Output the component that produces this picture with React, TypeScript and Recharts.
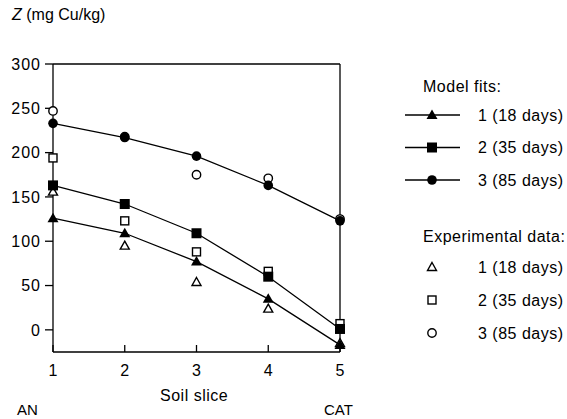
import React from 'react';
import {
  ComposedChart,
  Line,
  XAxis,
  YAxis,
  ReferenceLine
} from 'recharts';

// soil slices (1 = anode side, 5 = cathode side)
const slices = [1, 2, 3, 4, 5];

// model fits, mg Cu/kg
const model18 = [126, 109, 77, 35, -17];
const model35 = [163, 142, 109, 60, 1];
const model85 = [233, 217, 196, 163, 123];

// experimental data, mg Cu/kg
const exp18 = [156, 95, 54, 24, -15];
const exp35 = [194, 123, 88, 66, 7];
const exp85 = [247, 218, 175, 171, 125];

const yTicks = [0, 50, 100, 150, 200, 250, 300];

const FONT = '"Liberation Sans", Arial, Helvetica, sans-serif';

const rows = slices.map((x, i) => ({
  x,
  m18: model18[i],
  m35: model35[i],
  m85: model85[i],
  e18: exp18[i],
  e35: exp35[i],
  e85: exp85[i]
}));

type Kind = 'triF' | 'sqF' | 'cirF' | 'triO' | 'sqO' | 'cirO';

const Marker = ({ cx, cy, kind }: { cx: number; cy: number; kind: Kind }) => {
  switch (kind) {
    case 'triF':
      return <path d={`M${cx},${cy - 5.5} L${cx + 5.5},${cy + 4} L${cx - 5.5},${cy + 4} Z`} fill="#000" />;
    case 'sqF':
      return <rect x={cx - 5} y={cy - 5} width={10} height={10} fill="#000" />;
    case 'cirF':
      return <circle cx={cx} cy={cy} r={4.8} fill="#000" />;
    case 'triO':
      return (
        <path
          d={`M${cx},${cy - 4.5} L${cx + 4.5},${cy + 3.5} L${cx - 4.5},${cy + 3.5} Z`}
          fill="#fff"
          stroke="#000"
          strokeWidth={1.4}
        />
      );
    case 'sqO':
      return <rect x={cx - 4} y={cy - 4} width={8} height={8} fill="#fff" stroke="#000" strokeWidth={1.4} />;
    default:
      return <circle cx={cx} cy={cy} r={4.2} fill="#fff" stroke="#000" strokeWidth={1.4} />;
  }
};

const dotOf = (kind: Kind) => (props: any) => (
  <Marker key={`${kind}-${props.index}`} cx={props.cx} cy={props.cy} kind={kind} />
);

// ticks on the slice axis point into the plot
const SliceTick = (props: any) => {
  const { x, y, payload } = props;
  const axisY = y - 12;
  return (
    <g>
      <line x1={x} x2={x} y1={axisY} y2={axisY - 7} stroke="#000" strokeWidth={1.3} />
      <text x={x} y={y + 12} textAnchor="middle" fontSize={16} fontFamily={FONT} fill="#000">
        {payload.value}
      </text>
    </g>
  );
};

const legendFits: { label: string; kind: Kind }[] = [
  { label: '1 (18 days)', kind: 'triF' },
  { label: '2 (35 days)', kind: 'sqF' },
  { label: '3 (85 days)', kind: 'cirF' }
];
const legendExp: { label: string; kind: Kind }[] = [
  { label: '1 (18 days)', kind: 'triO' },
  { label: '2 (35 days)', kind: 'sqO' },
  { label: '3 (85 days)', kind: 'cirO' }
];

const LegendBox = () => (
  <svg width={187} height={300} style={{ overflow: 'visible', display: 'block' }}>
    <g fontFamily={FONT} fontSize={16} letterSpacing={0.5} fill="#000">
      <text x={43} y={21.5}>Model fits:</text>
      {legendFits.map((r, i) => {
        const cy = 45 + i * 32.5;
        return (
          <g key={r.label}>
            <line x1={25} x2={80} y1={cy} y2={cy} stroke="#000" strokeWidth={1.3} />
            <Marker cx={52} cy={cy} kind={r.kind} />
            <text x={98} y={cy + 5.5}>{r.label}</text>
          </g>
        );
      })}
      <text x={43} y={171.5}>Experimental data:</text>
      {legendExp.map((r, i) => {
        const cy = 197 + i * 33;
        return (
          <g key={r.label}>
            <Marker cx={52} cy={cy} kind={r.kind} />
            <text x={98} y={cy + 5.5}>{r.label}</text>
          </g>
        );
      })}
    </g>
  </svg>
);

export default function App() {
  return (
    <div style={{ position: 'absolute', left: 0, top: 0, width: 567, height: 419, background: '#fff' }}>
      <ComposedChart
        width={567}
        height={419}
        data={rows}
        margin={{ top: 64, right: 227, bottom: 37, left: 8 }}
      >
        <XAxis
          dataKey="x"
          type="number"
          domain={[1, 5]}
          ticks={slices}
          tickLine={false}
          tickSize={8}
          tickMargin={4}
          height={30}
          tick={<SliceTick />}
          axisLine={{ stroke: '#000', strokeWidth: 1.3 }}
        />
        <YAxis
          type="number"
          domain={[-25, 300]}
          ticks={yTicks}
          width={45}
          tickSize={8}
          tickMargin={4}
          allowDataOverflow
          tick={{ fontSize: 16, fill: '#000', fontFamily: FONT, letterSpacing: 1 }}
          tickLine={{ stroke: '#000', strokeWidth: 1.3 }}
          axisLine={{ stroke: '#000', strokeWidth: 1.3 }}
        />
        <ReferenceLine y={300} stroke="#000" strokeWidth={1.3} />
        <ReferenceLine x={5} stroke="#000" strokeWidth={1.3} />
        {/* experimental points first so the model markers sit on top */}
        <Line dataKey="e18" stroke="none" dot={dotOf('triO')} isAnimationActive={false} />
        <Line dataKey="e35" stroke="none" dot={dotOf('sqO')} isAnimationActive={false} />
        <Line dataKey="e85" stroke="none" dot={dotOf('cirO')} isAnimationActive={false} />
        <Line dataKey="m18" stroke="#000" strokeWidth={1.3} dot={dotOf('triF')} isAnimationActive={false} />
        <Line dataKey="m35" stroke="#000" strokeWidth={1.3} dot={dotOf('sqF')} isAnimationActive={false} />
        <Line dataKey="m85" stroke="#000" strokeWidth={1.3} dot={dotOf('cirF')} isAnimationActive={false} />
      </ComposedChart>
      <div style={{ position: 'absolute', left: 380, top: 70 }}>
        <LegendBox />
      </div>
      <div style={{ position: 'absolute', left: 12, top: 6, fontFamily: FONT, fontSize: 16, color: '#000' }}>
        <i>Z</i> (mg Cu/kg)
      </div>
      <div style={{ position: 'absolute', left: 160, top: 387, fontFamily: FONT, fontSize: 16, letterSpacing: 0.5 }}>
        Soil slice
      </div>
      <div style={{ position: 'absolute', left: 17, top: 401, fontFamily: FONT, fontSize: 15 }}>AN</div>
      <div style={{ position: 'absolute', left: 324, top: 401, fontFamily: FONT, fontSize: 15 }}>CAT</div>
    </div>
  );
}
